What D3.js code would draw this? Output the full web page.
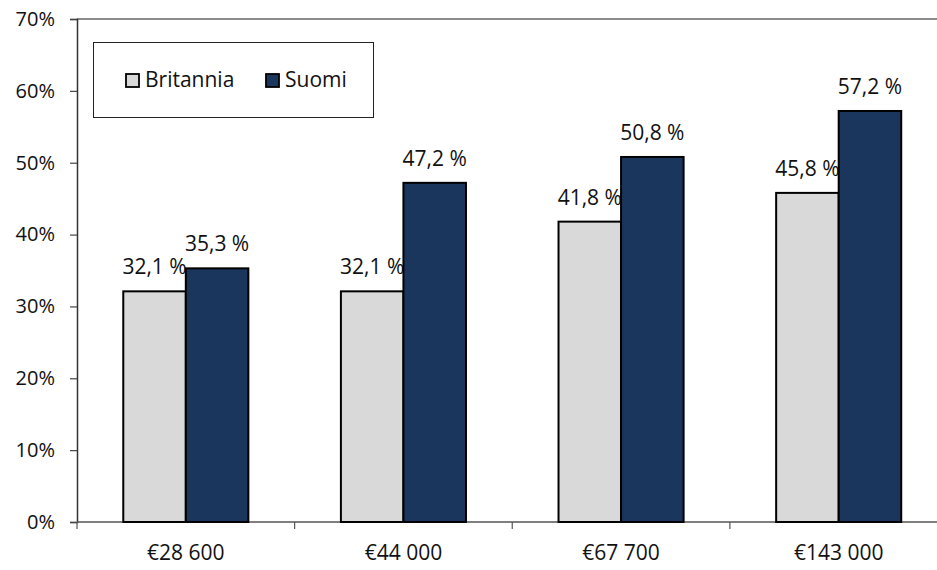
<!DOCTYPE html>
<html>
<head>
<meta charset="utf-8">
<script src="https://cdn.jsdelivr.net/npm/d3@7"></script>
<style>
  html, body { margin: 0; padding: 0; background: #fff; }
  svg { display: block; font-family: "Open Sans", sans-serif; }
</style>
</head>
<body>
<svg id="chart" width="937" height="570"></svg>
<script>
const categories = ["€28 600", "€44 000", "€67 700", "€143 000"];
const seriesNames = ["Britannia", "Suomi"];
const britannia = [32.1, 32.1, 41.8, 45.8];
const suomi = [35.3, 47.2, 50.8, 57.2];
const yTicks = [0, 10, 20, 30, 40, 50, 60, 70];
const seriesColors = ["#d9d9d9", "#1b365d"];

const svg = d3.select("#chart");
const plotLeft = 77, plotRight = 947.5, plotTop = 19, plotBottom = 522;

const x0 = d3.scaleBand().domain(categories).range([plotLeft, plotRight]).padding(0);
const x1 = d3.scaleBand().domain(seriesNames).range([0, x0.bandwidth()])
  .paddingInner(0).paddingOuter(0.74);
const y = d3.scaleLinear().domain([0, 70]).range([plotBottom, plotTop]);
const color = d3.scaleOrdinal().domain(seriesNames).range(seriesColors);

const fmt = v => d3.format(".1f")(v).replace(".", ",") + " %";

// top border
svg.append("line").attr("x1", plotLeft).attr("x2", 937).attr("y1", plotTop).attr("y2", plotTop)
  .attr("stroke", "#8c8c8c").attr("stroke-width", 2);

// y axis
const yAxis = svg.append("g").attr("transform", `translate(${plotLeft},0)`)
  .call(d3.axisLeft(y).tickValues(yTicks).tickFormat(d => d + "%").tickSize(7).tickPadding(15));
yAxis.select(".domain").attr("stroke", "#333").attr("stroke-width", 1.5);
yAxis.selectAll(".tick line").attr("stroke", "#444").attr("stroke-width", 1.2);
yAxis.selectAll(".tick text").attr("font-size", 20).attr("fill", "#111")
  .attr("font-family", "Open Sans, sans-serif");

// x axis
const xAxis = svg.append("g").attr("transform", `translate(0,${plotBottom})`)
  .call(d3.axisBottom(x0).tickSize(0).tickPadding(23));
xAxis.select(".domain").remove();
svg.append("line").attr("x1", plotLeft).attr("x2", 937).attr("y1", plotBottom).attr("y2", plotBottom)
  .attr("stroke", "#555").attr("stroke-width", 1.5);
xAxis.selectAll(".tick text").attr("font-size", 21).attr("fill", "#111")
  .attr("font-family", "Open Sans, sans-serif");
// boundary ticks
const bounds = categories.map(c => x0(c)).concat([plotRight]);
svg.append("g").selectAll("line").data(bounds).join("line")
  .attr("x1", d => d).attr("x2", d => d).attr("y1", plotBottom).attr("y2", plotBottom + 7)
  .attr("stroke", "#555").attr("stroke-width", 1.2);

const rows = categories.map((c, i) => ({ cat: c, values: [britannia[i], suomi[i]] }));

function drawSeries(si) {
  const name = seriesNames[si];
  svg.append("g").selectAll("rect").data(rows).join("rect")
    .attr("x", d => x0(d.cat) + x1(name))
    .attr("y", d => y(d.values[si]))
    .attr("width", x1.bandwidth())
    .attr("height", d => y(0) - y(d.values[si]))
    .attr("fill", color(name))
    .attr("stroke", "#000").attr("stroke-width", 2);
  svg.append("g").selectAll("text").data(rows).join("text")
    .attr("x", d => x0(d.cat) + x1(name) + x1.bandwidth() / 2)
    .attr("y", d => y(d.values[si]) - 17)
    .attr("text-anchor", "middle")
    .attr("font-size", 21).attr("fill", "#111")
    .text(d => fmt(d.values[si]));
}
drawSeries(0);
drawSeries(1);

// legend
const lg = svg.append("g");
lg.append("rect").attr("x", 93.5).attr("y", 42.5).attr("width", 280).attr("height", 75)
  .attr("fill", "#fff").attr("stroke", "#222").attr("stroke-width", 1);
const legendX = [126, 266];
seriesNames.forEach((name, i) => {
  lg.append("rect").attr("x", legendX[i]).attr("y", 74).attr("width", 13).attr("height", 13)
    .attr("fill", color(name)).attr("stroke", "#000").attr("stroke-width", 1.8);
  lg.append("text").attr("x", legendX[i] + 19).attr("y", 87)
    .attr("font-size", 21).attr("fill", "#111").text(name);
});
</script>
</body>
</html>
